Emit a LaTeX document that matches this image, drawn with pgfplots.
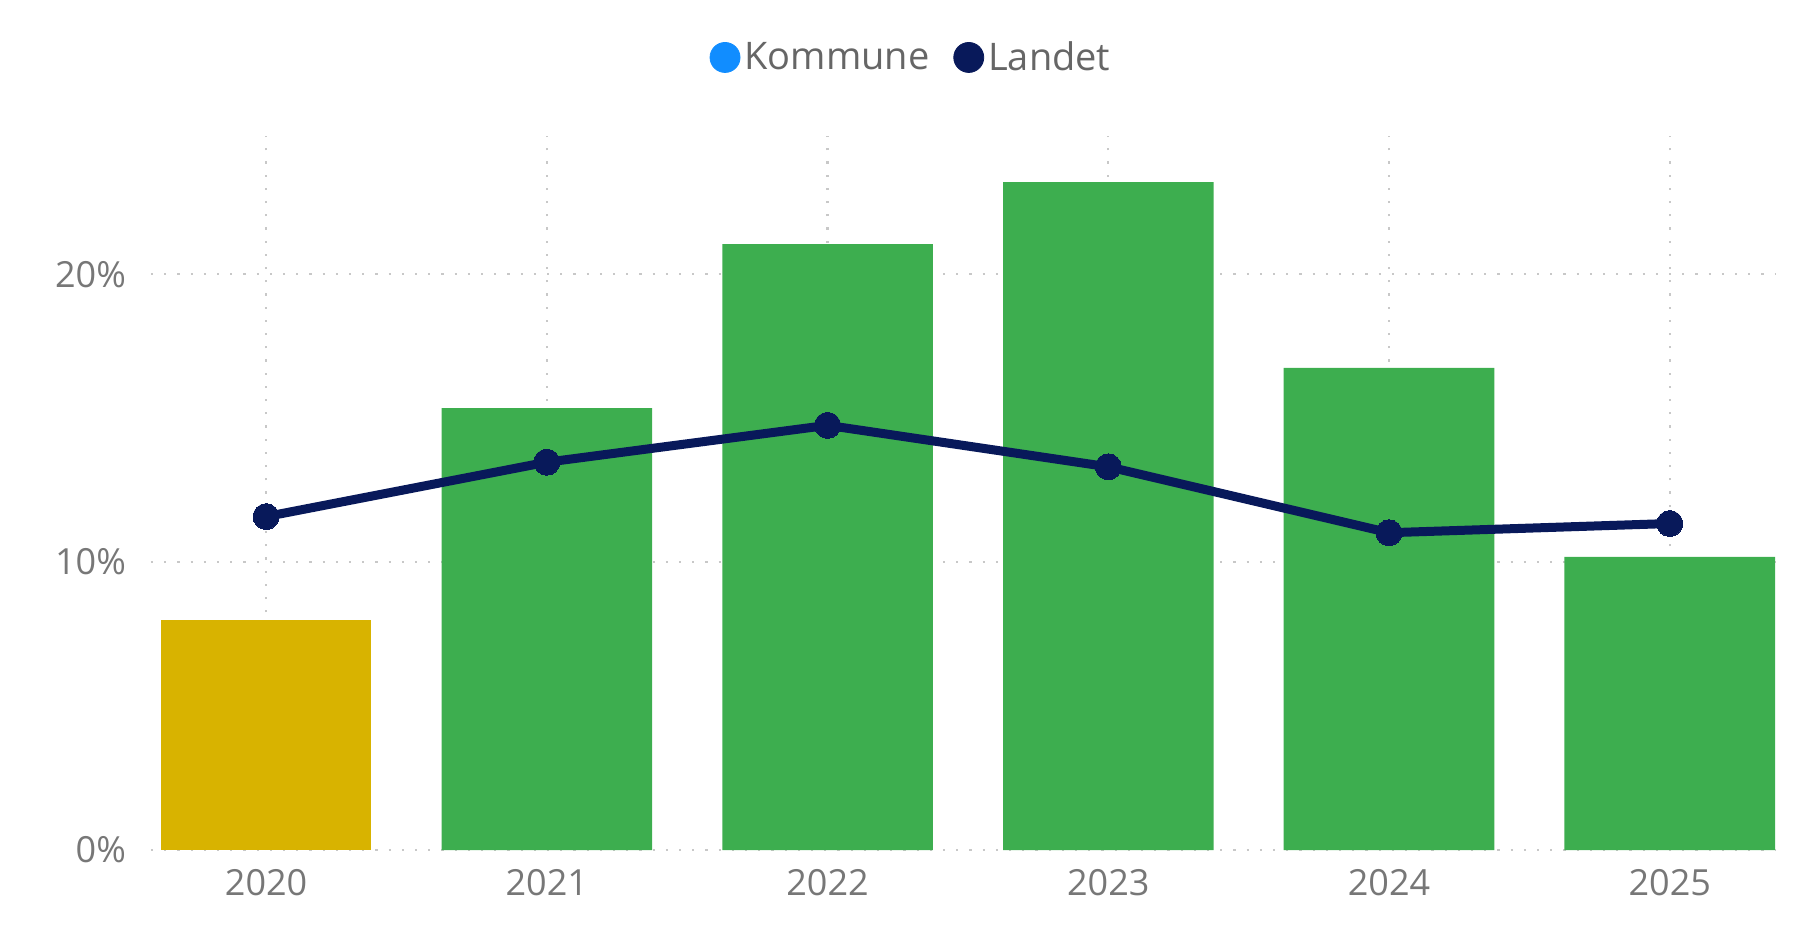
\documentclass[border=0pt]{standalone}
\usepackage{fontspec}
\setmainfont{Open Sans}
\usepackage{pgfplots}
\pgfplotsset{compat=1.18}
\definecolor{kblue}{HTML}{118DFF}
\definecolor{navy}{HTML}{08195A}
\definecolor{bargreen}{HTML}{3DAE4F}
\definecolor{bargold}{HTML}{D8B300}
\definecolor{ticktext}{HTML}{777777}
\definecolor{legtext}{HTML}{666666}
\definecolor{gridc}{HTML}{C8C8C8}
\begin{document}
\begin{tikzpicture}
\path[use as bounding box] (0,0) rectangle (905.5pt,466.5pt);
\begin{axis}[
  at={(75.5pt,41.5pt)}, anchor=south west,
  width=812pt, height=357pt, scale only axis,
  xmin=-0.41, xmax=5.375,
  ymin=0, ymax=24.8,
  xtick={0,1,2,3,4,5},
  xticklabels={2020,2021,2022,2023,2024,2025},
  ytick={0,10,20},
  yticklabels={0\%,10\%,20\%},
  axis line style={draw=none},
  major tick length=0pt,
  xmajorgrids, ymajorgrids,
  grid style={gridc, line width=1.1pt, dash pattern=on 1.1pt off 5.5pt},
  ticklabel style={font=\fontsize{18}{20}\selectfont, color=ticktext},
  /pgf/number format/assume math mode=true,
  yticklabel style={xshift=-9pt},
  xticklabel style={yshift=-6pt},
  legend style={at={(0.4686,1.110)}, anchor=center, draw=none, fill=none,
    legend columns=2, font=\fontsize{19}{22}\selectfont, text=legtext,
    /tikz/every even column/.append style={column sep=10pt}},
  legend cell align=left,
]
\addlegendimage{legend image code/.code={\fill[kblue] (0.45cm,0pt) circle (7.5pt);}}
\addlegendentry{Kommune}
\addlegendimage{legend image code/.code={\fill[navy] (0.45cm,0pt) circle (7.5pt);}}
\addlegendentry{Landet}
\addplot[ybar, bar width=0.75, bar shift=0pt, fill=bargold, draw=none, forget plot]
  coordinates {(0,7.98)};
\addplot[ybar, bar width=0.75, bar shift=0pt, fill=bargreen, draw=none, forget plot]
  coordinates {(1,15.35) (2,21.04) (3,23.2) (4,16.75) (5,10.18)};
\addplot[navy, line width=4.5pt, mark=*, mark size=6.5pt, mark options={fill=navy, draw=navy, line width=0pt}, forget plot]
  coordinates {(0,11.58) (1,13.47) (2,14.75) (3,13.31) (4,11.02) (5,11.34)};
\end{axis}
\end{tikzpicture}
\end{document}
